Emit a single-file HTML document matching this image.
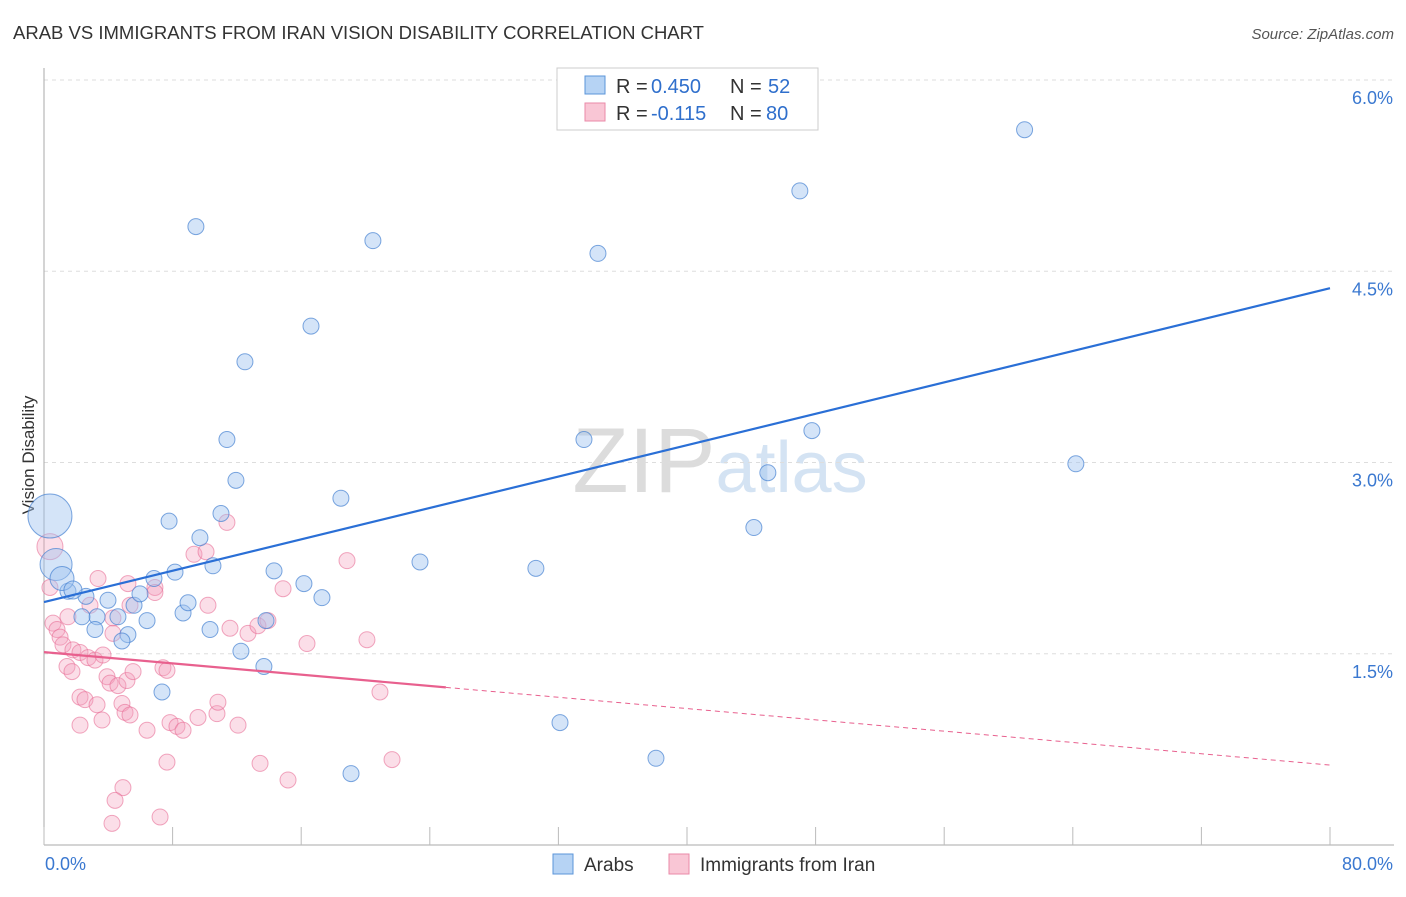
<!DOCTYPE html>
<html><head><meta charset="utf-8">
<style>
body{margin:0;background:#fff;font-family:"Liberation Sans",sans-serif;}
svg text{font-family:"Liberation Sans",sans-serif;}
</style></head>
<body>
<svg id="chart" width="1406" height="892" xmlns="http://www.w3.org/2000/svg">
<text x="13" y="39" font-size="18" fill="#333" textLength="691" lengthAdjust="spacingAndGlyphs">ARAB VS IMMIGRANTS FROM IRAN VISION DISABILITY CORRELATION CHART</text>
<text x="1394" y="39" font-size="15" fill="#555" text-anchor="end" font-style="italic">Source: ZipAtlas.com</text>
<text transform="translate(34,455) rotate(-90)" font-size="17" fill="#333" text-anchor="middle">Vision Disability</text>
<text x="720" y="492" font-size="92" fill="#e3e3e3" text-anchor="middle" font-family="Liberation Serif"><tspan fill="#dcdcdc">ZIP</tspan><tspan fill="#d4e3f3" font-family="Liberation Sans" font-size="72">atlas</tspan></text>
<g id="grid"></g><g id="pts"></g><g id="lines"></g>
<g>
<rect x="557" y="68" width="261" height="62" fill="#fff" stroke="#ccc"/>
<rect x="585" y="76" width="20" height="18" fill="#b6d3f4" stroke="#5b95d9"/>
<rect x="585" y="103" width="20" height="18" fill="#f9c6d5" stroke="#ea8aa8"/>
<text x="616" y="93" font-size="20" fill="#333">R =</text>
<text x="651" y="93" font-size="20" fill="#2f6fcc">0.450</text>
<text x="730" y="93" font-size="20" fill="#333">N =</text>
<text x="768" y="93" font-size="20" fill="#2f6fcc">52</text>
<text x="616" y="120" font-size="20" fill="#333">R =</text>
<text x="651" y="120" font-size="20" fill="#2f6fcc">-0.115</text>
<text x="730" y="120" font-size="20" fill="#333">N =</text>
<text x="766" y="120" font-size="20" fill="#2f6fcc">80</text>
</g>
<g>
<rect x="553" y="854" width="20" height="20" fill="#b6d3f4" stroke="#5b95d9"/>
<text x="584" y="871" font-size="19" fill="#333">Arabs</text>
<rect x="669" y="854" width="20" height="20" fill="#f9c6d5" stroke="#ea8aa8"/>
<text x="700" y="871" font-size="19" fill="#333">Immigrants from Iran</text>
</g>
</svg>
<script>
const yTicks=[1.5,3.0,4.5,6.0];
const yTickLabels=["1.5%","3.0%","4.5%","6.0%"];
const xTicks=[0,8,16,24,32,40,48,56,64,72,80];
const xEndLabels=["0.0%","80.0%"];
const arabX=[9.45,20.46,34.46,61.0,47.02,16.61,12.50,11.38,11.94,18.47,11.01,7.78,9.70,10.51,8.15,6.84,16.17,14.31,17.29,23.39,30.60,33.59,47.77,45.03,44.16,64.19,32.10,38.07,19.10,13.68,12.25,7.34,10.33,8.65,8.96,6.41,5.22,4.85,4.60,3.98,5.60,3.30,2.61,1.49,3.17,2.36,5.97,13.81,0.37,0.75,1.12,1.80];
const arabY=[4.85,4.74,4.64,5.61,5.13,4.07,3.79,3.18,2.86,2.72,2.60,2.54,2.41,2.19,2.14,2.09,2.05,2.15,1.94,2.22,2.17,3.18,3.25,2.92,2.49,2.99,0.96,0.68,0.56,1.40,1.52,1.20,1.69,1.82,1.90,1.76,1.65,1.60,1.79,1.92,1.88,1.79,1.95,1.99,1.69,1.79,1.97,1.76,2.58,2.20,2.09,2.00];
const arabR=[8,8,8,8,8,8,8,8,8,8,8,8,8,8,8,8,8,8,8,8,8,8,8,8,8,8,8,8,8,8,8,8,8,8,8,8,8,8,8,8,8,8,8,8,8,8,8,8,22,16,12,9];
const iranX=[11.38,9.33,10.08,0.37,3.36,5.22,6.90,6.90,18.85,14.87,10.20,2.86,5.35,1.49,4.29,11.57,12.69,13.31,13.93,4.29,16.36,20.09,0.56,0.81,1.00,1.18,1.80,2.24,2.74,3.17,3.67,1.43,1.74,7.40,7.65,3.92,4.11,4.60,5.16,5.54,2.24,2.55,3.30,4.85,5.04,5.35,2.24,3.61,6.41,7.84,8.27,8.65,9.58,10.76,10.82,12.07,20.90,7.65,13.44,15.18,21.65,4.91,4.42,4.23,7.22,0.37];
const iranY=[2.53,2.28,2.30,2.34,2.09,2.05,2.02,1.98,2.23,2.01,1.88,1.88,1.88,1.79,1.78,1.70,1.66,1.72,1.76,1.66,1.58,1.61,1.74,1.69,1.63,1.57,1.53,1.51,1.47,1.45,1.49,1.40,1.36,1.39,1.37,1.32,1.27,1.25,1.29,1.36,1.16,1.14,1.10,1.11,1.04,1.02,0.94,0.98,0.90,0.96,0.93,0.90,1.00,1.03,1.12,0.94,1.20,0.65,0.64,0.51,0.67,0.45,0.35,0.17,0.22,2.02];
const arabLine=[1.905,4.367];
const iranLine=[1.513,0.627];
const iranSolidEnd=25;
const X0=44,X1=1330,Y0=845,Ytop=80;
const xs=v=>X0+(v/80)*(X1-X0);
const ys=v=>Y0-(v/6)*(Y0-Ytop);
const NS="http://www.w3.org/2000/svg";
function mk(tag,attrs,parent){const e=document.createElementNS(NS,tag);for(const k in attrs)e.setAttribute(k,attrs[k]);parent.appendChild(e);return e;}
const grid=document.getElementById('grid');
yTicks.forEach((t,i)=>{
  const l=mk('line',{x1:X0,x2:1394,y1:ys(t),y2:ys(t),stroke:'#ddd','stroke-dasharray':'4,4'},grid);
  
  
  const tx=mk('text',{x:1393,y:ys(t)+24,'font-size':18,fill:'#3a78d0','text-anchor':'end'},grid);
  tx.textContent=yTickLabels[i];
  
  
});
const ax=mk('line',{x1:X0,x2:X0,y1:68,y2:Y0,stroke:'#aaa'},grid);


const bx=mk('line',{x1:X0,x2:1394,y1:Y0,y2:Y0,stroke:'#aaa'},grid);


xTicks.forEach(t=>{
  const l=mk('line',{x1:xs(t),x2:xs(t),y1:Y0,y2:Y0-18,stroke:'#bbb'},grid);
  
  
});
const xl0=mk('text',{x:45,y:870,'font-size':18,fill:'#3a78d0'},grid);xl0.textContent=xEndLabels[0];


const xl1=mk('text',{x:1393,y:870,'font-size':18,fill:'#3a78d0','text-anchor':'end'},grid);xl1.textContent=xEndLabels[1];


const pts=document.getElementById('pts');
iranX.forEach((x,i)=>{
  const c=mk('circle',{cx:xs(x),cy:ys(iranY[i]),r:i==3?13:8,fill:'rgba(244,160,188,0.35)',stroke:'rgba(232,110,150,0.6)','stroke-width':1},pts);
  
  
});
arabX.forEach((x,i)=>{
  const c=mk('circle',{cx:xs(x),cy:ys(arabY[i]),r:arabR[i],fill:'rgba(160,196,240,0.45)',stroke:'rgba(70,130,210,0.7)','stroke-width':1},pts);
  
  
});
const lines=document.getElementById('lines');
const bl=mk('line',{x1:xs(0),y1:ys(arabLine[0]),x2:xs(80),y2:ys(arabLine[1]),stroke:'#2a6fd6','stroke-width':2.2},lines);


const iy=x=>iranLine[0]+(iranLine[1]-iranLine[0])*x/80;
const pl=mk('line',{x1:xs(0),y1:ys(iy(0)),x2:xs(iranSolidEnd),y2:ys(iy(iranSolidEnd)),stroke:'#e8608e','stroke-width':2.2},lines);


const pd=mk('line',{x1:xs(iranSolidEnd),y1:ys(iy(iranSolidEnd)),x2:xs(80),y2:ys(iy(80)),stroke:'#e8608e','stroke-width':1,'stroke-dasharray':'5,4'},lines);


</script>
</body></html>
